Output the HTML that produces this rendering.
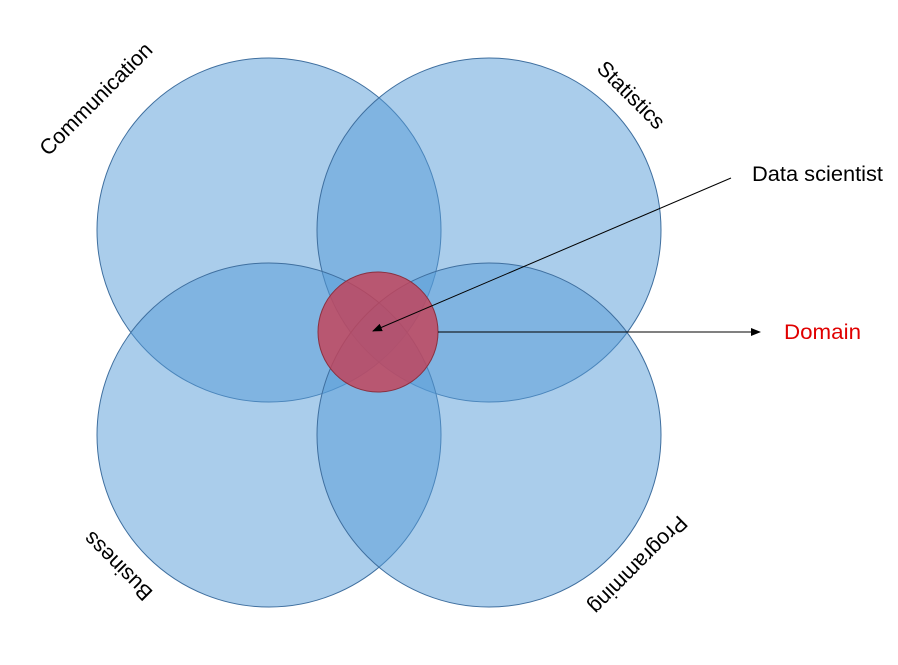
<!DOCTYPE html>
<html><head><style>
html,body{margin:0;padding:0;background:#fff;}
svg text{font-family:"Liberation Sans",sans-serif;}
</style></head><body>
<svg width="898" height="660" viewBox="0 0 898 660" xmlns="http://www.w3.org/2000/svg">
<defs>
<marker id="a" markerWidth="10" markerHeight="8" refX="9" refY="4" orient="auto" markerUnits="userSpaceOnUse">
<path d="M0,0 L10,4 L0,8 z" fill="#000"/></marker>
</defs>
<g fill="rgb(86,155,215)" fill-opacity="0.5" stroke="#3f6f9f" stroke-width="1">
<circle cx="269" cy="230" r="172"/>
<circle cx="489" cy="230" r="172"/>
<circle cx="269" cy="435" r="172"/>
<circle cx="489" cy="435" r="172"/>
</g>
<circle cx="378" cy="332" r="60" fill="rgb(196,66,88)" fill-opacity="0.82" stroke="#8a3040" stroke-width="1"/>
<line x1="731" y1="178" x2="373" y2="331" stroke="#000" stroke-width="1" marker-end="url(#a)"/>
<line x1="438" y1="332" x2="760" y2="332" stroke="#000" stroke-width="1" marker-end="url(#a)"/>
<text x="752" y="181" font-size="21.5" fill="#000" textLength="131" lengthAdjust="spacingAndGlyphs">Data scientist</text>
<text x="784" y="339" font-size="21.5" fill="#e00000" textLength="77" lengthAdjust="spacingAndGlyphs">Domain</text>
<text transform="translate(97,100) rotate(-45)" text-anchor="middle" dominant-baseline="middle" font-size="21.5">Communication</text>
<text transform="translate(630,96) rotate(45)" text-anchor="middle" dominant-baseline="middle" font-size="21.5">Statistics</text>
<text transform="translate(119,565) rotate(225)" text-anchor="middle" dominant-baseline="middle" font-size="21.5">Business</text>
<text transform="translate(637,564) rotate(135)" text-anchor="middle" dominant-baseline="middle" font-size="21.5">Programming</text>
</svg>
</body></html>
